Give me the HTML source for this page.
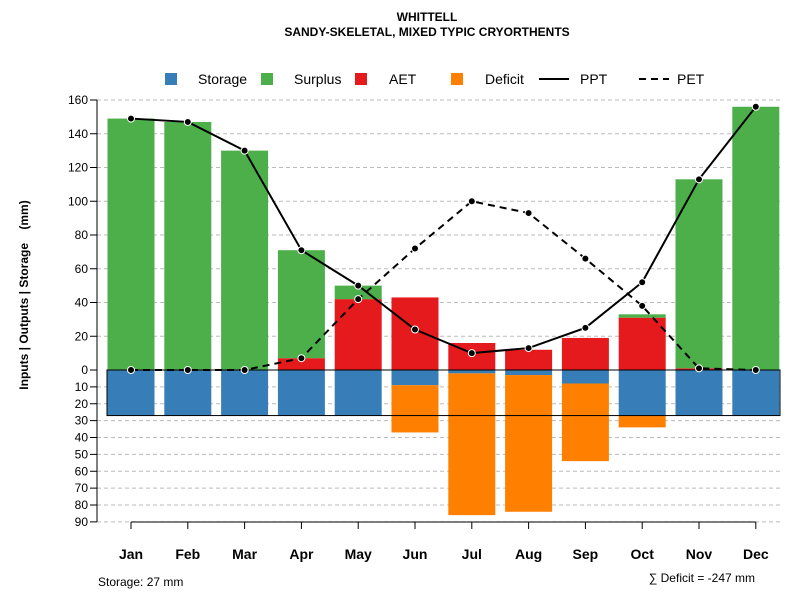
<!DOCTYPE html>
<html><head><meta charset="utf-8"><style>
body{margin:0;background:#fff;}
svg{display:block;font-family:"Liberation Sans",sans-serif;}
</style></head><body>
<svg id="chart" width="800" height="600" xmlns="http://www.w3.org/2000/svg">
<text x="427" y="21" text-anchor="middle" font-size="12" font-weight="bold">WHITTELL</text>
<text x="427" y="36" text-anchor="middle" font-size="12" font-weight="bold">SANDY-SKELETAL, MIXED TYPIC CRYORTHENTS</text>
<g id="grid"></g><g id="bars"></g><g id="lines"></g><g id="axes"></g>
<g font-size="14">
<rect x="165" y="73" width="12" height="12" fill="#377eb8"/>
<text x="198" y="84">Storage</text>
<rect x="261" y="73" width="12" height="12" fill="#4daf4a"/>
<text x="294" y="84">Surplus</text>
<rect x="355" y="73" width="12" height="12" fill="#e41a1c"/>
<text x="389" y="84">AET</text>
<rect x="451" y="73" width="12" height="12" fill="#ff7f00"/>
<text x="485" y="84">Deficit</text>
<line x1="539" y1="79" x2="569" y2="79" stroke="#000" stroke-width="2"/>
<text x="580" y="84">PPT</text>
<line x1="639" y1="79" x2="669" y2="79" stroke="#000" stroke-width="2" stroke-dasharray="7,5"/>
<text x="677" y="84">PET</text>
</g>
<text transform="translate(28,295) rotate(-90)" text-anchor="middle" font-size="12" font-weight="bold" style="white-space:pre">Inputs | Outputs | Storage    (mm)</text>
<text x="98" y="586" font-size="12">Storage: 27 mm</text>
<text x="755" y="582" text-anchor="end" font-size="12">∑ Deficit = -247 mm</text>
</svg>
<script>
const months=["Jan","Feb","Mar","Apr","May","Jun","Jul","Aug","Sep","Oct","Nov","Dec"];
const ppt=[149,147,130,71,50,24,10,13,25,52,113,156];
const pet=[0,0,0,7,42,72,100,93,66,38,1,0];
const aet=[0,0,0,7,42,43,16,12,19,31,1,0];
const surplus=[149,147,130,64,8,0,0,0,0,2,112,156];
const storage=[27,27,27,27,27,9,2,3,8,27,27,27];
const deficit=[0,0,0,0,0,28,84,81,46,7,0,0];
const upTicks=[0,20,40,60,80,100,120,140,160];
const downTicks=[10,20,30,40,50,60,70,80,90];
const capacity=27;
const NS="http://www.w3.org/2000/svg";
const y0=370,k=270/160;
const yUp=v=>y0-v*k, yDn=v=>y0+v*k;
const xc=i=>131+i*56.8, bw=47;
function mk(tag,attrs,parent){const e=document.createElementNS(NS,tag);for(const a in attrs)e.setAttribute(a,attrs[a]);document.getElementById(parent).appendChild(e);return e;}
upTicks.forEach(v=>{
 if(v>0){const g=mk("line",{x1:97,x2:780,y1:yUp(v),y2:yUp(v),stroke:"#bbb","stroke-dasharray":"4,3"},"grid");
 
 }
 const t=mk("line",{x1:90,x2:97,y1:yUp(v),y2:yUp(v),stroke:"#000"},"axes");
 
 
 const l=mk("text",{x:88,y:yUp(v)+4,"text-anchor":"end","font-size":12},"axes");l.textContent=v;
 
 
});
downTicks.forEach(v=>{
 const g=mk("line",{x1:97,x2:780,y1:yDn(v),y2:yDn(v),stroke:"#bbb","stroke-dasharray":"4,3"},"grid");
 
 
 const t=mk("line",{x1:90,x2:97,y1:yDn(v),y2:yDn(v),stroke:"#000"},"axes");
 
 
 const l=mk("text",{x:88,y:yDn(v)+4,"text-anchor":"end","font-size":12},"axes");l.textContent=v;
 
 
});
months.forEach((m,i)=>{
 const x=xc(i)-bw/2;
 if(aet[i]>0){const r=mk("rect",{x:x,y:yUp(aet[i]),width:bw,height:aet[i]*k,fill:"#e41a1c"},"bars");
  
  }
 if(surplus[i]>0){const r=mk("rect",{x:x,y:yUp(aet[i]+surplus[i]),width:bw,height:surplus[i]*k,fill:"#4daf4a"},"bars");
  
  }
 if(storage[i]>0){const r=mk("rect",{x:x,y:y0,width:bw,height:storage[i]*k,fill:"#377eb8"},"bars");
  
  }
 if(deficit[i]>0){const r=mk("rect",{x:x,y:yDn(storage[i]),width:bw,height:deficit[i]*k,fill:"#ff7f00"},"bars");
  
  }
 const t=mk("line",{x1:xc(i),x2:xc(i),y1:522,y2:529,stroke:"#000"},"axes");
 
 
 const l=mk("text",{x:xc(i),y:559,"text-anchor":"middle","font-size":14,"font-weight":"bold"},"axes");l.textContent=m;
 
 
});
const cap=mk("rect",{x:107,y:y0,width:673,height:capacity*k,fill:"none",stroke:"#000"},"bars");


const ax=mk("line",{x1:97,x2:97,y1:yUp(160),y2:yDn(90),stroke:"#000"},"axes");


const bx=mk("line",{x1:xc(0),x2:xc(11),y1:522,y2:522,stroke:"#000"},"axes");


function series(arr,name,dash){
 const p=mk("polyline",{points:arr.map((v,i)=>xc(i)+","+yUp(v)).join(" "),fill:"none",stroke:"#000","stroke-width":2,"stroke-dasharray":dash},"lines");
 
 
 arr.forEach((v,i)=>{const c=mk("circle",{cx:xc(i),cy:yUp(v),r:3.5,fill:"#000",stroke:"#fff","stroke-width":1},"lines");
  
  });
}
series(pet,"pet","7,5");
series(ppt,"ppt","none");
</script>
</body></html>
